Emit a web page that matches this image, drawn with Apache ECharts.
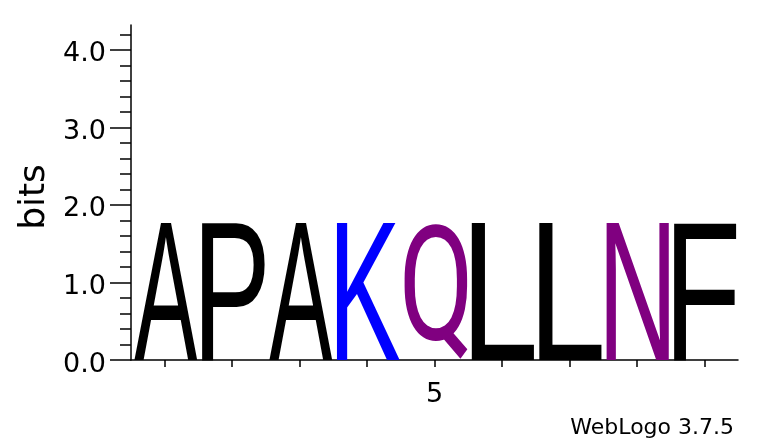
<!DOCTYPE html>
<html>
<head>
<meta charset="utf-8">
<script src="https://cdn.jsdelivr.net/npm/echarts@6/dist/echarts.min.js"></script>
<style>
  html, body { margin: 0; padding: 0; background: #fff; }
  #chart { width: 760px; height: 444px; }
</style>
</head>
<body>
<div id="chart"></div>
<script>
(function () {
    var positions = ['1', '2', '3', '4', '5', '6', '7', '8', '9'];
    var letters = ['A', 'P', 'A', 'K', 'Q', 'L', 'L', 'N', 'F'];
    var bits = [1.76, 1.76, 1.76, 1.76, 1.76, 1.76, 1.76, 1.76, 1.76];
    var yTicks = [0, 1, 2, 3, 4];

    // weblogo "chemistry" colours
    var colors = {
        K: '#0000ff', R: '#0000ff', H: '#0000ff',
        Q: '#800080', N: '#800080',
        D: '#ff0000', E: '#ff0000',
        G: '#008000', S: '#008000', T: '#008000', Y: '#008000', C: '#008000'
    };

    var FONT = "100px 'Liberation Sans'";
    // Q with a short tail, closer to the helvetica one
    var FONT_Q = "100px Roboto";
    var ctx = document.createElement('canvas').getContext('2d');
    var metrics = {};
    function fontOf(ch) {
        return ch === 'Q' ? FONT_Q : FONT;
    }
    function glyph(ch) {
        if (!metrics[ch]) {
            ctx.font = fontOf(ch);
            ctx.textAlign = 'left';
            ctx.textBaseline = 'middle';
            var m = ctx.measureText(ch);
            metrics[ch] = {
                l: m.actualBoundingBoxLeft,
                r: m.actualBoundingBoxRight,
                a: m.actualBoundingBoxAscent,
                d: m.actualBoundingBoxDescent
            };
        }
        return metrics[ch];
    }

    var data = positions.map(function (p, i) {
        return [i, bits[i]];
    });

    // stretch each glyph so its ink box fills the stack cell
    function renderLetter(params, api) {
        var i = api.value(0);
        var ch = letters[i];
        var base = api.coord([i, 0]);
        var top = api.coord([i, api.value(1)]);
        var band = api.size([1, 0])[0];
        var x0 = base[0] - band / 2 + band * 0.05;
        var x1 = base[0] + band / 2 - band * 0.01;
        var g = glyph(ch);
        var sx = (x1 - x0) / (g.l + g.r);
        var sy = (base[1] - top[1]) / (g.a + g.d);
        return {
            type: 'text',
            x: x0 + g.l * sx,
            y: top[1] + g.a * sy,
            scaleX: sx,
            scaleY: sy,
            style: {
                text: ch,
                x: 0,
                y: 0,
                font: fontOf(ch),
                fill: colors[ch] || '#000000',
                align: 'left',
                verticalAlign: 'middle'
            }
        };
    }

    var axisFont = 'DejaVu Sans';
    var option = {
        animation: false,
        backgroundColor: '#ffffff',
        grid: {
            left: 131,
            right: 22,
            top: 25,
            bottom: 84
        },
        xAxis: {
            type: 'category',
            data: positions,
            boundaryGap: true,
            axisLine: { show: true, lineStyle: { color: '#000', width: 1.5 } },
            axisTick: {
                show: true,
                alignWithLabel: true,
                interval: 0,
                length: 7,
                lineStyle: { color: '#000', width: 1.5 }
            },
            axisLabel: {
                interval: 0,
                margin: 21,
                fontSize: 27,
                fontFamily: axisFont,
                color: '#000',
                formatter: function (v) {
                    return v === '5' ? v : '';
                }
            },
            splitLine: { show: false }
        },
        yAxis: {
            type: 'value',
            min: 0,
            max: 4.32,
            name: 'bits',
            nameLocation: 'middle',
            nameGap: 77,
            nameTextStyle: {
                fontSize: 36,
                fontFamily: axisFont,
                color: '#000',
                padding: [0, 9, 0, 0]
            },
            axisLine: { show: true, lineStyle: { color: '#000', width: 1.5 } },
            axisTick: {
                show: true,
                length: 21,
                customValues: yTicks,
                lineStyle: { color: '#000', width: 1.5 }
            },
            minorTick: {
                show: true,
                splitNumber: 5,
                length: 11,
                lineStyle: { color: '#000', width: 1.5 }
            },
            axisLabel: {
                margin: 25,
                fontSize: 27,
                fontFamily: axisFont,
                color: '#000',
                verticalAlign: 'top',
                lineHeight: 9,
                customValues: yTicks,
                formatter: function (v) {
                    return v.toFixed(1);
                }
            },
            splitLine: { show: false }
        },
        graphic: [{
            type: 'text',
            right: 26,
            top: 417,
            style: {
                text: 'WebLogo 3.7.5',
                fontSize: 22,
                fontFamily: axisFont,
                fill: '#000'
            }
        }],
        series: [{
            type: 'custom',
            renderItem: renderLetter,
            encode: { x: 0, y: 1 },
            data: data,
            z: 1
        }]
    };

    var chart = echarts.init(document.getElementById('chart'));
    chart.setOption(option);
})();
</script>
</body>
</html>
